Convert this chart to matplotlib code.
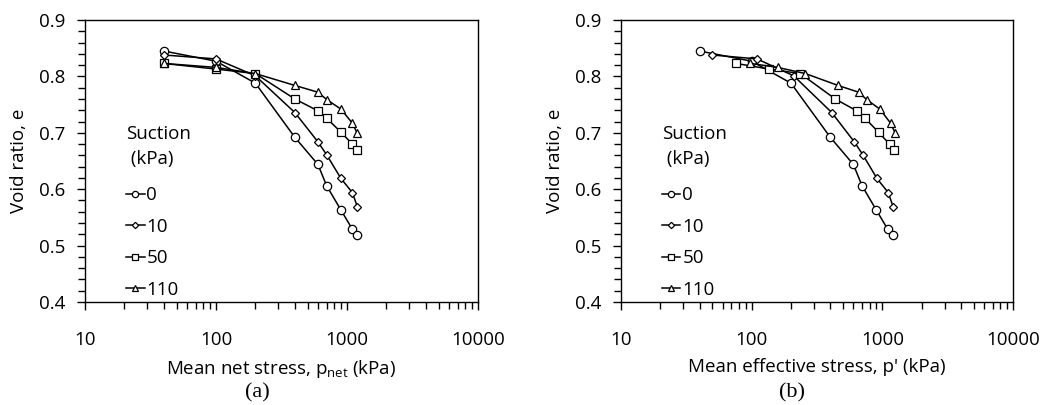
import matplotlib
matplotlib.use("Agg")
import matplotlib.pyplot as plt
from matplotlib.ticker import FixedLocator, LogLocator, NullFormatter

plt.rcParams['font.family'] = ['Open Sans', 'DejaVu Sans']
plt.rcParams['mathtext.fontset'] = 'custom'
plt.rcParams['mathtext.rm'] = 'Open Sans'
plt.rcParams['mathtext.it'] = 'Open Sans'

# --- data ---
suctions = ["0", "10", "50", "110"]
p_net = [40, 100, 200, 400, 600, 700, 900, 1100, 1200]

e_s0   = [0.845, 0.827, 0.788, 0.692, 0.644, 0.606, 0.563, 0.529, 0.518]
e_s10  = [0.838, 0.831, 0.801, 0.736, 0.684, 0.661, 0.619, 0.594, 0.569]
e_s50  = [0.823, 0.813, 0.805, 0.760, 0.739, 0.726, 0.701, 0.680, 0.670]
e_s110 = [0.823, 0.816, 0.805, 0.784, 0.772, 0.759, 0.742, 0.717, 0.699]

p_eff_s0   = [40, 100, 200, 400, 600, 700, 900, 1100, 1200]
p_eff_s10  = [50, 110, 210, 410, 610, 710, 910, 1110, 1210]
p_eff_s50  = [76, 136, 236, 436, 636, 736, 936, 1136, 1236]
p_eff_s110 = [98, 158, 258, 458, 658, 758, 958, 1158, 1258]

markers = ["o", "D", "s", "^"]
msizes  = [6.0, 4.3, 6.0, 6.2]

e_all = [e_s0, e_s10, e_s50, e_s110]
p_eff_all = [p_eff_s0, p_eff_s10, p_eff_s50, p_eff_s110]

FS = 13.5

fig = plt.figure(figsize=(10.44, 4.05), dpi=100)
ax1 = fig.add_axes([0.0814, 0.2543, 0.3764, 0.6963])
ax2 = fig.add_axes([0.5948, 0.2543, 0.3755, 0.6963])


def draw(ax, xs_list, xlabel, tag, tag_x):
    for xs, e, m, ms, lab in zip(xs_list, e_all, markers, msizes, suctions):
        ax.plot(xs, e, color="black", lw=1.1, marker=m, ms=ms,
                mfc="white", mec="black", mew=0.9, label=lab)
    ax.set_xscale("log")
    ax.set_xlim(10, 10000)
    ax.set_ylim(0.4, 0.9)
    ax.xaxis.set_major_locator(FixedLocator([10, 100, 1000, 10000]))
    ax.set_xticklabels(["10", "100", "1000", "10000"])
    ax.xaxis.set_minor_locator(LogLocator(base=10, subs=range(2, 10)))
    ax.xaxis.set_minor_formatter(NullFormatter())
    ax.set_yticks([0.4, 0.5, 0.6, 0.7, 0.8, 0.9])
    ax.set_yticklabels(["0.4", "0.5", "0.6", "0.7", "0.8", "0.9"])
    ax.yaxis.set_minor_locator(FixedLocator([0.4 + 0.02 * i for i in range(26)]))
    ax.tick_params(which="major", direction="out", length=6, width=1,
                   labelsize=FS)
    ax.tick_params(axis="x", which="major", pad=15)
    ax.tick_params(axis="y", which="major", pad=8)
    ax.tick_params(which="minor", direction="out", length=5, width=1)
    for s in ax.spines.values():
        s.set_linewidth(1.0)
    ax.set_ylabel("Void ratio, e", fontsize=FS, labelpad=8)
    ax.set_xlabel(xlabel, fontsize=FS, labelpad=6)
    leg = ax.legend(title="Suction\n (kPa)", loc="upper left",
                    bbox_to_anchor=(0.08, 0.66), frameon=False, borderpad=0,
                    fontsize=FS, title_fontsize=FS, handlelength=1.0,
                    handletextpad=0.1, labelspacing=0.72,
                    markerscale=0.75)
    leg.get_title().set_linespacing(1.5)
    leg._legend_box.align = "left"
    leg._legend_box.sep = 13
    fig.text(tag_x, 1 - 393 / 405, tag, ha="center", va="center",
             fontsize=16, family="Liberation Serif")


draw(ax1, [p_net] * 4, r"Mean net stress, p$_{\mathrm{net}}$ (kPa)", "(a)", 257 / 1044)
draw(ax2, p_eff_all, "Mean effective stress, p' (kPa)", "(b)", 792 / 1044)

fig.savefig("out.png", dpi=100)
